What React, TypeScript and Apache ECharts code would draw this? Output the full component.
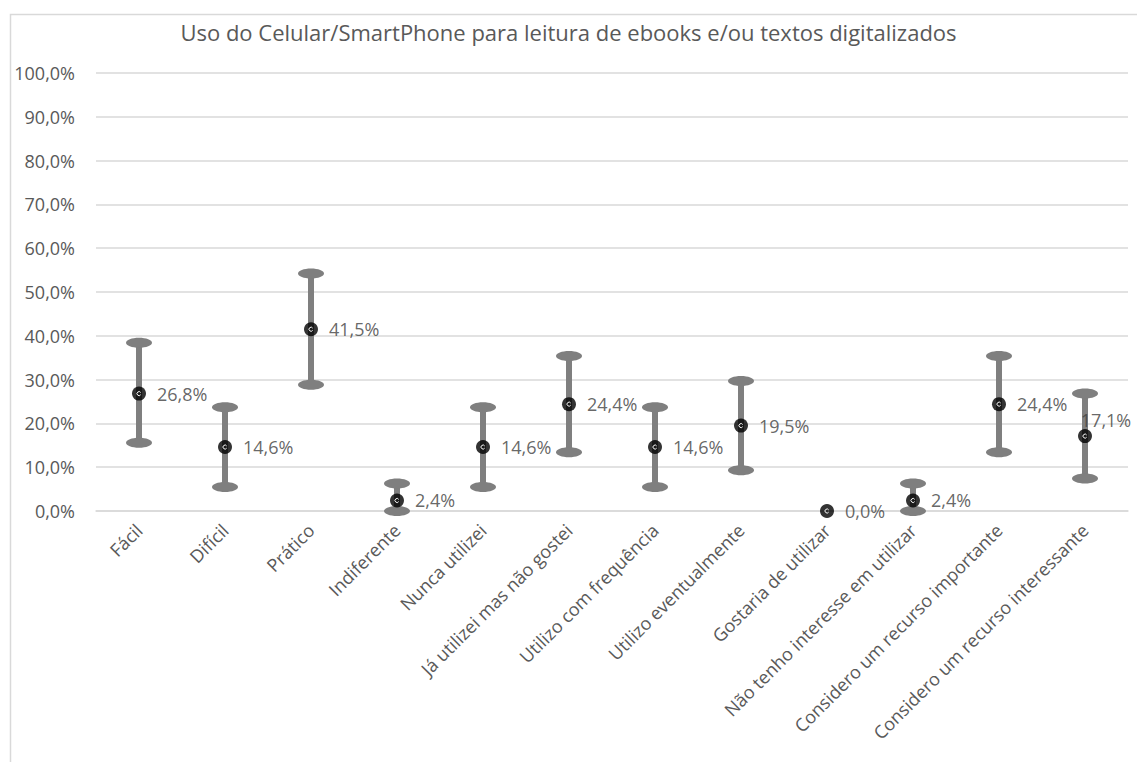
import React, { useEffect, useRef } from "react";
import * as echarts from "echarts";

const titleText = "Uso do Celular/SmartPhone para leitura de ebooks e/ou textos digitalizados";

const categories = [
  "Fácil",
  "Difícil",
  "Prático",
  "Indiferente",
  "Nunca utilizei",
  "Já utilizei mas não gostei",
  "Utilizo com frequência",
  "Utilizo eventualmente",
  "Gostaria de utilizar",
  "Não tenho interesse em utilizar",
  "Considero um recurso importante",
  "Considero um recurso interessante",
];

const values = [26.8, 14.6, 41.5, 2.4, 14.6, 24.4, 14.6, 19.5, 0.0, 2.4, 24.4, 17.1];
const lowerBounds = [15.6, 5.5, 28.8, 0, 5.5, 13.4, 5.5, 9.3, 0, 0, 13.4, 7.4];
const upperBounds = [38.4, 23.7, 54.2, 6.3, 23.7, 35.4, 23.7, 29.7, 0, 6.3, 35.4, 26.8];

const yTicks = [0, 10, 20, 30, 40, 50, 60, 70, 80, 90, 100];

const fmt = (v: number) => v.toFixed(1).replace(".", ",") + "%";

const FONT = "'Open Sans', sans-serif";

export default function App() {
  const ref = useRef<HTMLDivElement>(null);

  useEffect(() => {
    if (!ref.current) return;
    const chart = echarts.init(ref.current, undefined, { renderer: "svg" });

    const errData = categories.map((_, i) => [i, lowerBounds[i], upperBounds[i]]);
    const pointData = values.map((v, i) => {
      if (i === values.length - 1) {
        return {
          value: [i, v],
          label: { position: "top", distance: 0, offset: [21, 0] },
        };
      }
      return { value: [i, v] };
    });

    chart.setOption({
      animation: false,
      backgroundColor: "#ffffff",
      textStyle: { fontFamily: FONT },
      title: {
        text: titleText,
        left: "center",
        top: 16,
        textStyle: { fontFamily: FONT, fontSize: 22, fontWeight: "normal", color: "#595959" },
      },
      graphic: [
        {
          type: "rect",
          left: 8,
          top: 12,
          shape: { x: 0, y: 0, width: 1200, height: 800 },
          style: { fill: "none", stroke: "#d9d9d9", lineWidth: 1.5 },
          silent: true,
        },
      ],
      grid: { left: 96, right: 9, top: 73, bottom: 251, containLabel: false },
      xAxis: {
        type: "category",
        data: categories,
        axisLine: { show: true, lineStyle: { color: "#d9d9d9", width: 1.5 } },
        axisTick: { show: false },
        axisLabel: {
          interval: 0,
          rotate: 45,
          margin: 16,
          fontSize: 18,
          color: "#595959",
          fontFamily: FONT,
        },
      },
      yAxis: {
        type: "value",
        min: 0,
        max: 100,
        interval: 10,
        axisLine: { show: false },
        axisTick: { show: false },
        splitLine: { lineStyle: { color: "#d9d9d9", width: 1.5 } },
        axisLabel: {
          margin: 21,
          fontSize: 18,
          color: "#595959",
          fontFamily: FONT,
          formatter: (v: number) => (yTicks.includes(v) ? fmt(v) : ""),
        },
      },
      series: [
        {
          type: "custom",
          clip: false,
          z: 2,
          data: errData,
          encode: { x: 0, y: [1, 2] },
          renderItem: (params: any, api: any) => {
            const idx = api.value(0);
            const lo = api.value(1);
            const hi = api.value(2);
            if (lo === hi) return { type: "group", children: [] };
            const top = api.coord([idx, hi]);
            const bot = api.coord([idx, lo]);
            return {
              type: "group",
              children: [
                {
                  type: "line",
                  shape: { x1: top[0], y1: top[1], x2: bot[0], y2: bot[1] },
                  style: { stroke: "#7f7f7f", lineWidth: 6 },
                },
                {
                  type: "ellipse",
                  shape: { cx: top[0], cy: top[1], rx: 13, ry: 5 },
                  style: { fill: "#7f7f7f" },
                },
                {
                  type: "ellipse",
                  shape: { cx: bot[0], cy: bot[1], rx: 13, ry: 5 },
                  style: { fill: "#7f7f7f" },
                },
              ],
            };
          },
        },
        {
          type: "scatter",
          z: 3,
          symbol: "circle",
          symbolSize: 14,
          itemStyle: { color: "#000000" },
          data: pointData,
          label: {
            show: true,
            position: "right",
            distance: 11,
            fontSize: 18,
            color: "#404040",
            fontFamily: FONT,
            formatter: (p: any) => fmt(p.value[1]),
          },
        },
        {
          type: "custom",
          z: 4,
          clip: false,
          silent: true,
          data: values.map((v, i) => [i, v]),
          encode: { x: 0, y: 1 },
          renderItem: (params: any, api: any) => {
            const c = api.coord([api.value(0), api.value(1)]);
            return {
              type: "arc",
              shape: { cx: c[0], cy: c[1], r: 2, startAngle: 0.6, endAngle: 5.7 },
              style: { stroke: "#ffffff", lineWidth: 1, fill: "none" },
            };
          },
        },
      ],
    });

    return () => chart.dispose();
  }, []);

  return (
    <div
      ref={ref}
      style={{ position: "fixed", left: 0, top: 0, width: 1137, height: 762, background: "#fff" }}
    />
  );
}
